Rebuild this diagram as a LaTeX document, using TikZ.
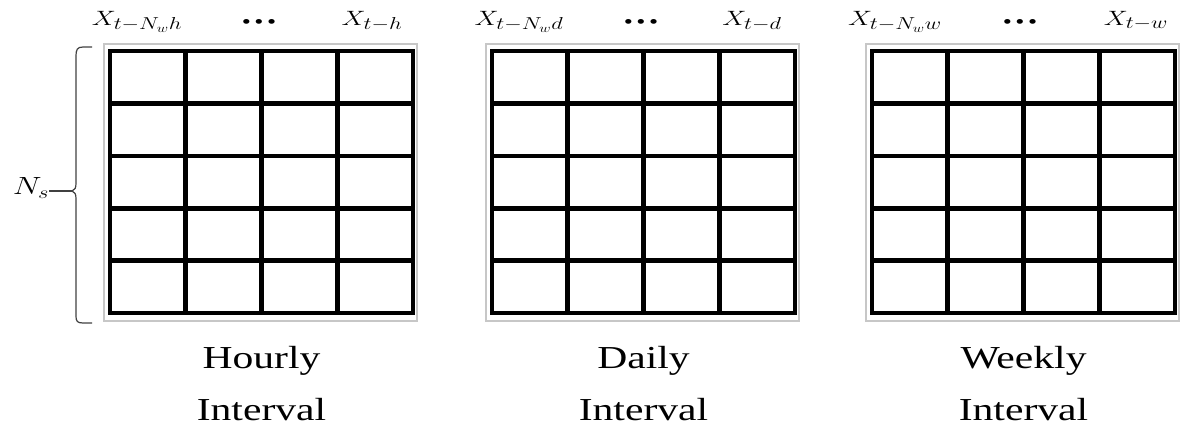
\documentclass[tikz,border=0pt]{standalone}
\usepackage{fontspec}
\setmainfont{Liberation Serif}[FakeStretch=1.3]
\DeclareMathSizes{20}{20}{16}{13}
\DeclareMathSizes{24}{24}{18}{14}
\begin{document}
\begin{tikzpicture}[x=1pt,y=-1pt,
  gridline/.style={line width=4.6pt, black},
  gridframe/.style={line width=4.6pt, black, line join=miter},
  outerframe/.style={line width=1.6pt, black!22},
  toplabel/.style={font=\fontsize{20}{20}\selectfont, anchor=base, inner sep=0pt},
  dotslabel/.style={font=\fontsize{20}{20}\selectfont, anchor=center, inner sep=0pt},
  caption/.style={font=\fontsize{32}{52}\selectfont, align=center, anchor=north, inner sep=0pt},
  bracestyle/.style={line width=1.2pt, black!75},
]
\useasboundingbox (0,0) rectangle (1180,429);

\foreach \gx/\nm/\sb/\cap/\lx/\dx/\rx in {110/hourly/h/Hourly/137/259/372, 492/daily/d/Daily/519/641/752, 872/weekly/w/Weekly/895/1020/1136}{
  \draw[outerframe] (\gx-6,44) rectangle (\gx+307,321);
  \begin{scope}[shift={(\gx,51)}]
    \foreach \i in {1,2,3}{
      \draw[gridline] (\i*75.75,0) -- (\i*75.75,262);
    }
    \foreach \j in {1,2,3,4}{
      \draw[gridline] (0,\j*52.4) -- (303,\j*52.4);
    }
    \draw[gridframe] (0,0) rectangle (303,262);
  \end{scope}
  \node[toplabel] (\nm-first) at (\lx,25) {\scalebox{1.3}[1]{$X_{t-N_w\sb}$}};
  \node[dotslabel] (\nm-dots) at (\dx,24) {\textbullet\hspace{3.5pt}\textbullet\hspace{3.5pt}\textbullet};
  \node[toplabel] (\nm-last) at (\rx,25) {\scalebox{1.3}[1]{$X_{t-\sb}$}};
  \node[caption] (\nm-caption) at (\gx+151.5,346) {\cap\\Interval};
}

\node[font=\fontsize{24}{24}\selectfont, inner sep=0pt] (Ns) at (31,188) {\scalebox{1.3}[1]{$N_s$}};
\coordinate (tip) at (72,191);
\draw[bracestyle] (92,47) -- (83,47) .. controls (77,47) and (76,50) .. (76,56)
  -- (76,183) .. controls (76,188) and (75,190) .. (tip)
  .. controls (75,192) and (76,194) .. (76,199)
  -- (76,316) .. controls (76,321) and (77,323) .. (83,323) -- (92,323);
\draw[bracestyle] (tip) -- (tip -| Ns.east);
\end{tikzpicture}
\end{document}
